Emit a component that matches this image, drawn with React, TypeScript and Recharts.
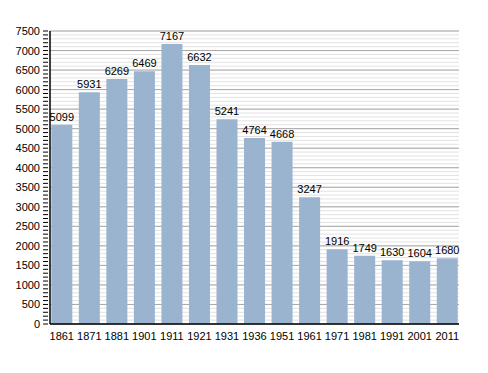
import { BarChart, Bar, XAxis, YAxis, CartesianGrid, LabelList } from 'recharts'

const years = ['1861', '1871', '1881', '1901', '1911', '1921', '1931', '1936', '1951', '1961', '1971', '1981', '1991', '2001', '2011']
const population = [5099, 5931, 6269, 6469, 7167, 6632, 5241, 4764, 4668, 3247, 1916, 1749, 1630, 1604, 1680]
const majorTicks = [0, 500, 1000, 1500, 2000, 2500, 3000, 3500, 4000, 4500, 5000, 5500, 6000, 6500, 7000, 7500]
const minorTicks = Array.from({ length: 76 }, (_, i) => i * 100)

const chartData = years.map((year, i) => ({ year, value: population[i] }))

const font = '"Liberation Sans", Arial, sans-serif'

function YTick(props: any) {
  const { x, y, payload } = props
  const major = payload.value % 500 === 0
  return (
    <g>
      <line x1={x + 1} x2={x + 6} y1={y} y2={y} stroke="#000" strokeWidth={1} />
      {major && (
        <text x={x - 2} y={y} dy={4} textAnchor="end" fontSize={11} fontFamily={font} fill="#000">
          {payload.value}
        </text>
      )}
    </g>
  )
}

export default function App() {
  return (
    <div style={{ position: 'fixed', left: 0, top: 0, width: 488, height: 373, background: '#fff' }}>
      <BarChart
        width={488}
        height={373}
        data={chartData}
        margin={{ top: 31, right: 29, left: 0, bottom: 19 }}
        barCategoryGap="12%"
      >
        <CartesianGrid vertical={false} horizontalValues={minorTicks} stroke="#e2e2e2" strokeWidth={1} />
        <CartesianGrid vertical={false} horizontalValues={majorTicks} stroke="#a8a8a8" strokeWidth={1} />
        <XAxis
          dataKey="year"
          tickLine={false}
          axisLine={{ stroke: '#000', strokeWidth: 1.5 }}
          tick={{ fontSize: 11, fontFamily: font, fill: '#000' }}
          height={30}
          padding={{ left: -2, right: -2 }}
          interval={0}
        />
        <YAxis
          domain={[0, 7500]}
          ticks={minorTicks}
          interval={0}
          width={50}
          tickLine={false}
          tickSize={6}
          axisLine={{ stroke: '#000', strokeWidth: 1.5 }}
          tick={<YTick />}
        />
        <Bar dataKey="value" fill="#9ab3cf" isAnimationActive={false}>
          <LabelList dataKey="value" position="top" offset={4} style={{ fontSize: 11, fontFamily: font, fill: '#000' }} />
        </Bar>
      </BarChart>
    </div>
  )
}
